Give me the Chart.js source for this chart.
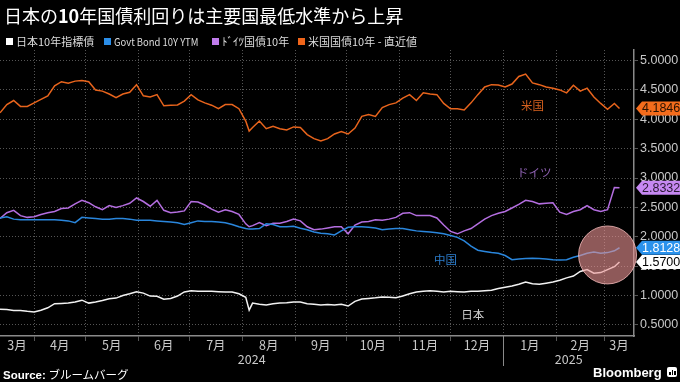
<!DOCTYPE html>
<html><head><meta charset="utf-8">
<script src="https://cdn.jsdelivr.net/npm/chart.js@4.4.1/dist/chart.umd.min.js"></script>
<style>
html,body{margin:0;padding:0;background:#000;}
#wrap{position:relative;width:680px;height:382px;overflow:hidden;background:#000;font-family:'Noto Sans CJK JP','Noto Sans',sans-serif;}
canvas{position:absolute;left:0;top:0;}
#title{position:absolute;left:4px;top:5px;font-size:18px;line-height:21px;color:#fff;white-space:nowrap;}
#title b{font-weight:700;}
.lg{position:absolute;top:32.5px;font-size:11px;line-height:16px;color:#ddd;white-space:nowrap;}
.lg i{display:inline-block;width:7px;height:7px;margin-right:3px;vertical-align:1px;}
.lg .nar{display:inline-block;transform:scaleX(0.86);transform-origin:0 50%;}
#src{position:absolute;left:3px;top:366px;font-size:11.5px;line-height:16px;color:#fff;white-space:nowrap;}
#src b{font-family:'Liberation Sans',Arial,sans-serif;}
#bb{position:absolute;left:593px;top:365px;font-size:13px;line-height:16px;font-weight:700;color:#fff;font-family:'Liberation Sans',Arial,sans-serif;}
#ic{position:absolute;left:667px;top:367px;width:10px;height:10px;background:#fff;border-radius:2px;}
#ic span{position:absolute;bottom:2px;width:1.5px;background:#000;}
</style></head>
<body>
<div id="wrap">
<canvas id="c" width="680" height="382"></canvas>
<div id="title">日本の<b>10</b>年国債利回りは主要国最低水準から上昇</div>
<div class="lg" style="left:6px"><i style="background:#ffffff"></i>日本10年指標債</div>
<div class="lg" style="left:104px"><i style="background:#2b8ee8"></i><span class="nar">Govt Bond 10Y YTM</span></div>
<div class="lg" style="left:212px"><i style="background:#c07cec"></i>ﾄﾞｲﾂ国債10年</div>
<div class="lg" style="left:298px"><i style="background:#f0651a"></i>米国国債10年 - 直近値</div>
<div id="src"><b>Source:</b> ブルームバーグ</div>
<div id="bb">Bloomberg</div>
<div id="ic"><span style="left:2px;height:3px"></span><span style="left:4.5px;height:5px"></span><span style="left:7px;height:4px"></span></div>
</div>
<script>
// ---- data ----
const dates = [
'2024-03-12','2024-03-16','2024-03-20','2024-03-24','2024-03-28',
'2024-04-01','2024-04-05','2024-04-09','2024-04-13','2024-04-17','2024-04-21','2024-04-25','2024-04-29',
'2024-05-03','2024-05-07','2024-05-11','2024-05-15','2024-05-19','2024-05-23','2024-05-27','2024-05-31',
'2024-06-04','2024-06-08','2024-06-12','2024-06-16','2024-06-20','2024-06-24','2024-06-28',
'2024-07-02','2024-07-06','2024-07-10','2024-07-14','2024-07-18','2024-07-22','2024-07-26','2024-07-30',
'2024-08-03','2024-08-05','2024-08-07','2024-08-11','2024-08-15','2024-08-19','2024-08-23','2024-08-27','2024-08-31',
'2024-09-04','2024-09-08','2024-09-12','2024-09-16','2024-09-20','2024-09-24','2024-09-28',
'2024-10-02','2024-10-06','2024-10-10','2024-10-14','2024-10-18','2024-10-22','2024-10-26','2024-10-30',
'2024-11-03','2024-11-07','2024-11-11','2024-11-15','2024-11-19','2024-11-23','2024-11-27',
'2024-12-01','2024-12-05','2024-12-09','2024-12-13','2024-12-17','2024-12-21','2024-12-25','2024-12-29',
'2025-01-02','2025-01-06','2025-01-10','2025-01-14','2025-01-18','2025-01-22','2025-01-26','2025-01-30',
'2025-02-03','2025-02-07','2025-02-11','2025-02-15','2025-02-19','2025-02-23','2025-02-27',
'2025-03-03','2025-03-07','2025-03-10'
];
const japan = [
0.765,0.76,0.745,0.745,0.73,
0.72,0.75,0.79,0.86,0.865,0.87,0.89,0.92,
0.87,0.89,0.915,0.945,0.955,1.00,1.03,1.065,
1.04,0.99,0.985,0.935,0.95,0.99,1.06,
1.08,1.07,1.07,1.07,1.065,1.06,1.06,1.03,
0.97,0.75,0.87,0.85,0.84,0.86,0.87,0.875,0.89,
0.89,0.86,0.85,0.84,0.845,0.84,0.85,
0.82,0.90,0.94,0.95,0.96,0.975,0.97,0.96,
0.99,1.03,1.06,1.07,1.08,1.07,1.06,
1.07,1.065,1.06,1.07,1.07,1.08,1.09,1.12,
1.14,1.16,1.19,1.23,1.20,1.19,1.21,1.23,
1.26,1.30,1.33,1.41,1.44,1.38,1.39,
1.44,1.49,1.5700
];
const china = [
2.32,2.34,2.30,2.29,2.29,
2.29,2.29,2.29,2.29,2.28,2.27,2.24,2.33,
2.32,2.31,2.30,2.30,2.31,2.31,2.30,2.28,
2.28,2.28,2.27,2.26,2.25,2.24,2.21,
2.24,2.27,2.26,2.26,2.25,2.24,2.21,2.17,
2.14,2.13,2.13,2.14,2.22,2.21,2.17,2.17,2.18,
2.145,2.12,2.08,2.06,2.05,2.03,2.10,
2.16,2.17,2.17,2.16,2.15,2.12,2.13,2.14,
2.14,2.12,2.10,2.09,2.08,2.07,2.05,
2.02,1.99,1.93,1.84,1.77,1.75,1.73,1.72,
1.68,1.61,1.62,1.63,1.635,1.63,1.62,1.61,
1.605,1.61,1.65,1.68,1.72,1.74,1.72,
1.73,1.76,1.8128
];
const germany = [
2.31,2.41,2.45,2.36,2.33,
2.34,2.38,2.41,2.43,2.48,2.49,2.56,2.62,
2.58,2.51,2.46,2.53,2.50,2.53,2.57,2.66,
2.60,2.52,2.62,2.45,2.41,2.42,2.44,
2.60,2.59,2.54,2.47,2.42,2.46,2.43,2.38,
2.22,2.17,2.19,2.24,2.19,2.23,2.23,2.26,2.30,
2.27,2.17,2.12,2.13,2.15,2.17,2.17,
2.05,2.20,2.25,2.26,2.29,2.28,2.30,2.33,
2.40,2.41,2.36,2.36,2.36,2.32,2.20,
2.09,2.05,2.10,2.14,2.22,2.30,2.36,2.40,
2.43,2.49,2.55,2.62,2.60,2.56,2.57,2.58,
2.42,2.38,2.43,2.46,2.53,2.46,2.43,
2.46,2.84,2.8332
];
const us = [
4.11,4.25,4.32,4.22,4.22,
4.28,4.34,4.40,4.57,4.64,4.615,4.65,4.66,
4.64,4.50,4.48,4.43,4.37,4.43,4.46,4.59,
4.40,4.38,4.42,4.23,4.24,4.245,4.31,
4.42,4.33,4.28,4.24,4.18,4.25,4.25,4.18,
3.97,3.80,3.86,3.97,3.84,3.88,3.84,3.82,3.87,
3.86,3.74,3.67,3.63,3.67,3.75,3.79,
3.75,3.85,4.05,4.08,4.05,4.20,4.25,4.28,
4.36,4.42,4.32,4.45,4.43,4.42,4.27,
4.18,4.18,4.16,4.28,4.42,4.55,4.59,4.585,
4.55,4.60,4.73,4.77,4.62,4.59,4.55,4.53,
4.50,4.45,4.58,4.48,4.53,4.38,4.27,
4.17,4.27,4.1846
];
const yTicks = [0.5,1.0,1.5,2.0,2.5,3.0,3.5,4.0,4.5,5.0];
const monthStarts = ['2024-03-01','2024-04-01','2024-05-01','2024-06-01','2024-07-01','2024-08-01','2024-09-01','2024-10-01','2024-11-01','2024-12-01','2025-01-01','2025-02-01','2025-03-01','2025-04-01'];
const monthNames = ['3月','4月','5月','6月','7月','8月','9月','10月','11月','12月','1月','2月','3月'];
const yearNames = ['2024','2025'];
const yearStarts = ['2024-01-01','2025-01-01','2026-01-01'];
const viewStart = '2024-03-12';
const viewEnd = '2025-03-18';

// ---- annotations (positions in data units) ----
const seriesNotes = [
  {text:'米国', date:'2025-01-18', value:4.23, color:'#d8621e'},
  {text:'ドイツ', date:'2025-01-19', value:3.09, color:'#8f62b3'},
  {text:'中国', date:'2024-11-28', value:1.605, color:'#2b7ccc'},
  {text:'日本', date:'2024-12-14', value:0.668, color:'#d0d0d0'}
];
const highlight = {date:'2025-03-03', value:1.69, radius:29};

const dayNum = s => Date.parse(s + 'T00:00:00Z') / 86400000;
const xMin = dayNum(viewStart), xMax = dayNum(viewEnd) + 0.5;
const pts = arr => dates.map((d, i) => ({x: dayNum(d), y: arr[i]}));

const series = [
  {label:'日本10年指標債', data:japan, color:'#f2f2f2', badge:'#ffffff', text:'#000000'},
  {label:'Govt Bond 10Y YTM', data:china, color:'#2a86dc', badge:'#2b92ec', text:'#ffffff'},
  {label:'ﾄﾞｲﾂ国債10年', data:germany, color:'#b46ee0', badge:'#c688f2', text:'#2a1a33'},
  {label:'米国国債10年 - 直近値', data:us, color:'#e8641c', badge:'#f46c1c', text:'#2a1200'}
];

const decor = {
  id: 'decor',
  afterDatasetsDraw(chart) {
    const {ctx, scales: {x, y}} = chart;
    ctx.save();
    const cx = x.getPixelForValue(dayNum(highlight.date));
    const cy = y.getPixelForValue(highlight.value);
    ctx.beginPath();
    ctx.arc(cx, cy, highlight.radius, 0, Math.PI * 2);
    ctx.fillStyle = 'rgba(236,148,148,0.6)';
    ctx.fill();
    ctx.strokeStyle = 'rgba(255,195,195,0.75)';
    ctx.lineWidth = 1;
    ctx.stroke();
    ctx.font = "11.5px 'Noto Sans CJK JP'";
    ctx.textAlign = 'center';
    ctx.textBaseline = 'middle';
    seriesNotes.forEach(n => {
      ctx.fillStyle = n.color;
      ctx.fillText(n.text, x.getPixelForValue(dayNum(n.date)), y.getPixelForValue(n.value));
    });
    ctx.restore();
  },
  afterDraw(chart) {
    const {ctx, chartArea, scales: {x, y}} = chart;
    ctx.save();
    ctx.textAlign = 'center';
    ctx.textBaseline = 'middle';
    ctx.fillStyle = '#c8c8c8';
    ctx.font = "12.5px 'Noto Sans CJK JP'";
    for (let i = 0; i < monthNames.length; i++) {
      const a = Math.max(dayNum(monthStarts[i]), xMin);
      const b = Math.min(dayNum(monthStarts[i + 1]), xMax);
      if (b <= a) continue;
      ctx.fillText(monthNames[i], x.getPixelForValue((a + b) / 2), 345);
    }
    for (let i = 0; i < yearNames.length; i++) {
      const a = Math.max(dayNum(yearStarts[i]), xMin);
      const b = Math.min(dayNum(yearStarts[i + 1]), xMax);
      ctx.fillText(yearNames[i], x.getPixelForValue((a + b) / 2), 359);
    }
    // year separator tick
    const yx = Math.round(x.getPixelForValue(dayNum(yearStarts[1]))) + 0.5;
    ctx.strokeStyle = '#8a8a8a';
    ctx.lineWidth = 1;
    ctx.beginPath();
    ctx.moveTo(yx, chartArea.bottom);
    ctx.lineTo(yx, 366);
    ctx.stroke();
    // last-value badges
    const order = [3, 2, 1, 0];
    ctx.font = "12.5px 'Liberation Sans', Arial, sans-serif";
    ctx.textAlign = 'left';
    order.forEach(i => {
      const s = series[i];
      const v = s.data[s.data.length - 1];
      const py = y.getPixelForValue(v);
      const L = chartArea.right + 2, h = 7;
      ctx.beginPath();
      ctx.moveTo(L, py);
      ctx.lineTo(L + 6, py - h);
      ctx.lineTo(680, py - h);
      ctx.lineTo(680, py + h);
      ctx.lineTo(L + 6, py + h);
      ctx.closePath();
      ctx.fillStyle = s.badge;
      ctx.fill();
      ctx.fillStyle = s.text;
      ctx.fillText(v.toFixed(4), L + 6, py + 0.5);
    });
    ctx.restore();
  }
};

new Chart(document.getElementById('c'), {
  type: 'line',
  data: {
    datasets: series.map(s => ({
      label: s.label,
      data: pts(s.data),
      borderColor: s.color,
      borderWidth: 1.5,
      pointRadius: 0,
      tension: 0,
      fill: false
    }))
  },
  options: {
    responsive: false,
    devicePixelRatio: 1,
    animation: false,
    layout: {padding: {top: 50, left: 0, right: 0, bottom: 0}},
    plugins: {legend: {display: false}, tooltip: {enabled: false}},
    scales: {
      x: {
        type: 'linear',
        min: xMin,
        max: xMax,
        afterBuildTicks: s => { s.ticks = monthStarts.map(dayNum).filter(v => v > xMin && v < xMax).map(v => ({value: v})); },
        afterFit: s => { s.height = 46; },
        ticks: {display: false},
        grid: {color: '#555', lineWidth: 1, drawTicks: true, tickLength: 5},
        border: {display: true, color: '#8a8a8a', width: 1.5, dash: [1, 2]}
      },
      y: {
        type: 'linear',
        position: 'right',
        min: 0.31,
        max: 5.18,
        afterBuildTicks: s => { s.ticks = yTicks.map(v => ({value: v})); },
        afterFit: s => { s.width = 46; },
        ticks: {
          color: '#c8c8c8',
          padding: 2,
          font: {size: 12.5, family: "'Liberation Sans', Arial, sans-serif"},
          callback: v => Number(v).toFixed(4)
        },
        grid: {color: '#555', lineWidth: 1, drawTicks: true, tickLength: 4},
        border: {display: true, color: '#8a8a8a', width: 1.5, dash: [1, 2]}
      }
    }
  },
  plugins: [decor]
});
</script>
</body></html>
